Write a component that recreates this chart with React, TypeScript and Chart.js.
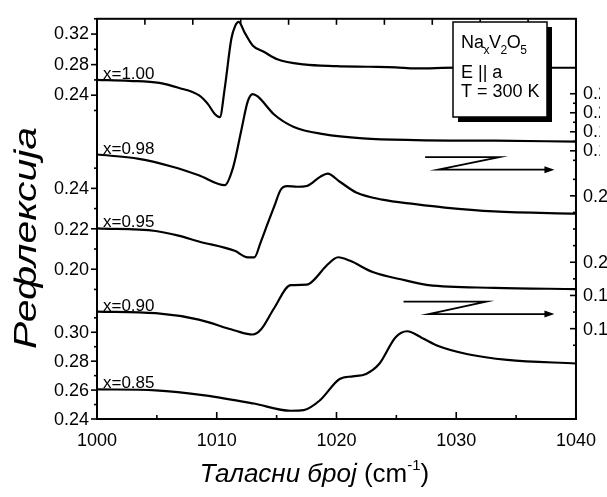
import React, { useEffect, useRef } from 'react';
import { Chart, registerables } from 'chart.js';

Chart.register(...registerables);

const FONT = '"Liberation Sans", Arial, Helvetica, sans-serif';

// ---- data: wavenumber (cm^-1) and reflectance for each Na content ----
const wn100 = [1000, 1002.7, 1005.2, 1006.8, 1008.5, 1009.3, 1009.8, 1010.26, 1010.67, 1011.22, 1011.55, 1011.83, 1012.32, 1013.0, 1013.97, 1015.06, 1017.26, 1020.0, 1022.7, 1024.94, 1026.58, 1030.0, 1033.2, 1037.0, 1040];
const refl100 = [0.2600, 0.2587, 0.2561, 0.2497, 0.2400, 0.2277, 0.2161, 0.2114, 0.2493, 0.3138, 0.3310, 0.3361, 0.3223, 0.3052, 0.2965, 0.2871, 0.2803, 0.2781, 0.2772, 0.2764, 0.2751, 0.2760, 0.2755, 0.2759, 0.2759];

const wn098 = [1000, 1003.5, 1006.3, 1008.5, 1010.67, 1011.36, 1012.04, 1012.59, 1013.0, 1013.42, 1014.79, 1016.44, 1018.91, 1022.2, 1026.58, 1033.2, 1040];
const refl098 = [0.1561, 0.1516, 0.1433, 0.1343, 0.1239, 0.1423, 0.1809, 0.2120, 0.2197, 0.2172, 0.1982, 0.1851, 0.1775, 0.1731, 0.1713, 0.1706, 0.1697];

const wn095 = [1000, 1004.9, 1006.8, 1008.5, 1011.5, 1012.59, 1013.14, 1013.66, 1014.24, 1014.81, 1015.33, 1015.88, 1016.71, 1017.53, 1018.63, 1019.26, 1020.25, 1021.65, 1023.84, 1026.58, 1029.05, 1033.17, 1040];
const refl095 = [0.2202, 0.2189, 0.2166, 0.2137, 0.2091, 0.2059, 0.2059, 0.2132, 0.2224, 0.2312, 0.2392, 0.2411, 0.2408, 0.2412, 0.2457, 0.2473, 0.2434, 0.2380, 0.2344, 0.2322, 0.2305, 0.2286, 0.2275];

const wn090 = [1000, 1004.9, 1008.5, 1011.5, 1013.0, 1013.69, 1014.79, 1016.16, 1017.53, 1018.08, 1019.18, 1020.14, 1021.1, 1023.02, 1025.76, 1027.68, 1033.17, 1040];
const refl090 = [0.1703, 0.1693, 0.1654, 0.1589, 0.1565, 0.1595, 0.1723, 0.1862, 0.1865, 0.1891, 0.1980, 0.2030, 0.2010, 0.1941, 0.1891, 0.1862, 0.1846, 0.1838];

const wn085 = [1000, 1004.9, 1009.0, 1013.1, 1016.16, 1017.26, 1018.63, 1020.27, 1021.37, 1022.47, 1023.56, 1024.94, 1025.9, 1027.14, 1028.5, 1030.97, 1034.26, 1040];
const refl085 = [0.2605, 0.2598, 0.2564, 0.2507, 0.2457, 0.2461, 0.2530, 0.2677, 0.2695, 0.2712, 0.2780, 0.2966, 0.3007, 0.2961, 0.2905, 0.2848, 0.2809, 0.2784];

const seriesNames = ['x=1.00', 'x=0.98', 'x=0.95', 'x=0.90', 'x=0.85'];
const seriesAxes = ['yA', 'yD', 'yB', 'yE', 'yC'];

// ---- axes ----
const xRange = [1000, 1040];
const xTickLabels = [1000, 1010, 1020, 1030, 1040];
const xMinorTicks = [1005, 1015, 1025, 1035];
const topTicks = [1004, 1008, 1012, 1016, 1020, 1024, 1028, 1032, 1036];

// y panels (each curve on its own reflectance scale)
const rangeA = [-0.1839, 0.34];
const ticksA = [0.24, 0.28, 0.32];
const minorA = [0.22, 0.26, 0.30, 0.34];

const rangeB = [0.1259, 0.3239];
const ticksB = [0.20, 0.22, 0.24];
const minorB = [0.19, 0.21, 0.23, 0.25];

const rangeC = [0.24, 0.5168];
const ticksC = [0.24, 0.26, 0.28, 0.30];
const minorC = [0.25, 0.27, 0.29, 0.31];

const rangeD = [-0.122, 0.2988];
const ticksD = [0.16, 0.18, 0.20, 0.22];
const minorD = [0.13, 0.15, 0.17, 0.19, 0.21];

const rangeE = [0.1056, 0.3466];
const ticksE = [0.16, 0.18, 0.20, 0.24];
const minorE = [0.15, 0.17, 0.19, 0.21, 0.22, 0.23];

// arrows pointing to the right-hand scale
const arrowAxes = ['yD', 'yE'];
const arrowTopX = [[1027.4, 1033.6], [1025.6, 1032.5]];
const arrowTopY = [0.1534, 0.1763];
const arrowBottomX = [[1028.5, 1038.2], [1027.7, 1038.2]];
const arrowBottomY = [0.1402, 0.1688];

const xTitleItalic = 'Таласни број';
const xTitleUnit = ' (cm';
const xTitleSup = '-1';
const xTitleEnd = ')';
const yTitle = 'Рефлексија';

const legendLine2 = 'E || a';
const legendLine3 = 'T = 300 K';

const BLACK = '#000';
const TICK_SIZE = 18;
const TICK_FONT = `${TICK_SIZE}px ${FONT}`;

function line(ctx: CanvasRenderingContext2D, x1: number, y1: number, x2: number, y2: number) {
  ctx.beginPath();
  ctx.moveTo(x1, y1);
  ctx.lineTo(x2, y2);
  ctx.stroke();
}

const decoPlugin = {
  id: 'deco',
  afterDraw(chart: any) {
    const { ctx, chartArea: a, scales } = chart;
    const xs = scales.x;
    ctx.save();
    ctx.strokeStyle = BLACK;
    ctx.fillStyle = BLACK;
    ctx.lineCap = 'butt';

    // frame
    ctx.lineWidth = 2;
    ctx.strokeRect(a.left, a.top, a.right - a.left, a.bottom - a.top);

    // bottom & top ticks
    ctx.lineWidth = 1.6;
    xTickLabels.forEach((v) => { const p = xs.getPixelForValue(v); line(ctx, p, a.bottom, p, a.bottom - 7); });
    xMinorTicks.forEach((v) => { const p = xs.getPixelForValue(v); line(ctx, p, a.bottom, p, a.bottom - 4); });
    topTicks.forEach((v) => { const p = xs.getPixelForValue(v); line(ctx, p, a.top, p, a.top + 6); });

    // left / right ticks (+ labels of the secondary panel scales)
    ctx.font = TICK_FONT;
    ctx.textBaseline = 'middle';
    const left: [string, number[], number[], boolean][] = [['yA', ticksA, minorA, false], ['yB', ticksB, minorB, true], ['yC', ticksC, minorC, true]];
    left.forEach(([id, maj, min, lab]) => {
      const s = scales[id];
      maj.forEach((v) => {
        const p = s.getPixelForValue(v);
        line(ctx, a.left - 6, p, a.left, p);
        if (lab) { ctx.textAlign = 'right'; ctx.fillText(v.toFixed(2), a.left - 8, p + 1); }
      });
      min.forEach((v) => { const p = s.getPixelForValue(v); line(ctx, a.left - 3, p, a.left + 1, p); });
    });
    const right: [string, number[], number[], boolean][] = [['yD', ticksD, minorD, false], ['yE', ticksE, minorE, true]];
    right.forEach(([id, maj, min, lab]) => {
      const s = scales[id];
      maj.forEach((v) => {
        const p = s.getPixelForValue(v);
        line(ctx, a.right - 6, p, a.right, p);
        if (lab) { ctx.textAlign = 'left'; ctx.fillText(v.toFixed(2), a.right + 7, p + 1); }
      });
      min.forEach((v) => { const p = s.getPixelForValue(v); line(ctx, a.right - 3, p, a.right, p); });
    });
    ctx.textBaseline = 'alphabetic';

    // arrows
    ctx.lineWidth = 1.8;
    arrowAxes.forEach((id, i) => {
      const s = scales[id];
      const ty = s.getPixelForValue(arrowTopY[i]);
      const by = s.getPixelForValue(arrowBottomY[i]);
      const t0 = xs.getPixelForValue(arrowTopX[i][0]);
      const t1 = xs.getPixelForValue(arrowTopX[i][1]);
      const b0 = xs.getPixelForValue(arrowBottomX[i][0]);
      const b1 = xs.getPixelForValue(arrowBottomX[i][1]);
      ctx.beginPath();
      ctx.moveTo(t0, ty);
      ctx.lineTo(t1, ty);
      ctx.lineTo(b0, by);
      ctx.lineTo(b1 - 8, by);
      ctx.stroke();
      ctx.beginPath();
      ctx.moveTo(b1, by);
      ctx.lineTo(b1 - 10, by - 3.5);
      ctx.lineTo(b1 - 10, by + 3.5);
      ctx.closePath();
      ctx.fill();
    });

    // legend box with shadow
    const bx = 453, by0 = 22, bw = 94, bh = 95;
    ctx.fillStyle = BLACK;
    ctx.fillRect(bx + 5, by0 + 5, bw, bh);
    ctx.fillStyle = '#fff';
    ctx.fillRect(bx, by0, bw, bh);
    ctx.strokeStyle = BLACK;
    ctx.lineWidth = 1.5;
    ctx.strokeRect(bx, by0, bw, bh);
    ctx.fillStyle = BLACK;
    ctx.textAlign = 'left';
    const big = `18px ${FONT}`;
    const small = `12px ${FONT}`;
    let tx = bx + 8;
    const parts: [string, boolean][] = [['Na', false], ['x', true], ['V', false], ['2', true], ['O', false], ['5', true]];
    parts.forEach(([t, sub]) => {
      ctx.font = sub ? small : big;
      ctx.fillText(t, tx, sub ? 54 : 48);
      tx += ctx.measureText(t).width - 0.5;
    });
    ctx.font = big;
    ctx.fillText(legendLine2, bx + 8, 78);
    ctx.fillText(legendLine3, bx + 8, 97);

    // curve labels
    ctx.font = `17px ${FONT}`;
    const firsts = [refl100[0], refl098[0], refl095[0], refl090[0], refl085[0]];
    seriesNames.forEach((n, i) => {
      const s = scales[seriesAxes[i]];
      ctx.fillText(n, xs.getPixelForValue(1000.5), s.getPixelForValue(firsts[i]) - 1);
    });

    // x title
    ctx.font = `italic 26px ${FONT}`;
    const w1 = ctx.measureText(xTitleItalic).width;
    ctx.font = `26px ${FONT}`;
    const w2 = ctx.measureText(xTitleUnit).width;
    const w4 = ctx.measureText(xTitleEnd).width;
    ctx.font = `15px ${FONT}`;
    const w3 = ctx.measureText(xTitleSup).width;
    const total = w1 + w2 + w3 + w4;
    let x0 = (a.left + a.right) / 2 - total / 2 - 22;
    const ybase = 482;
    ctx.font = `italic 26px ${FONT}`;
    ctx.fillText(xTitleItalic, x0, ybase);
    x0 += w1;
    ctx.font = `26px ${FONT}`;
    ctx.fillText(xTitleUnit, x0, ybase);
    x0 += w2;
    ctx.font = `15px ${FONT}`;
    ctx.fillText(xTitleSup, x0, ybase - 12);
    x0 += w3;
    ctx.font = `26px ${FONT}`;
    ctx.fillText(xTitleEnd, x0, ybase);

    // y title
    ctx.save();
    ctx.translate(36, 238);
    ctx.rotate(-Math.PI / 2);
    ctx.font = `italic 31px ${FONT}`;
    ctx.textAlign = 'center';
    const yw = ctx.measureText(yTitle).width;
    ctx.scale(222 / yw, 1);
    ctx.fillText(yTitle, 0, 0);
    ctx.restore();

    ctx.restore();
  },
};

function yAxis(range: number[], ticks: number[], position: string, width: number, show: boolean) {
  return {
    type: 'linear',
    position,
    display: show,
    min: range[0],
    max: range[1],
    afterBuildTicks: (s: any) => { s.ticks = ticks.map((v) => ({ value: v })); },
    afterFit: (s: any) => { s.width = width; },
    ticks: {
      autoSkip: false,
      padding: position === 'left' ? 8 : 7,
      color: BLACK,
      font: { family: FONT, size: TICK_SIZE },
      callback: (v: any) => Number(v).toFixed(2),
    },
    grid: { display: false, drawTicks: false },
    border: { display: false },
  };
}

export default function App() {
  const ref = useRef<HTMLCanvasElement | null>(null);
  useEffect(() => {
    if (!ref.current) return;
    const mk = (xs: number[], ys: number[]) => xs.map((x, i) => ({ x, y: ys[i] }));
    const all = [[wn100, refl100], [wn098, refl098], [wn095, refl095], [wn090, refl090], [wn085, refl085]];
    const chart = new Chart(ref.current, {
      type: 'line',
      data: {
        datasets: all.map(([xs, ys], i) => ({
          label: seriesNames[i],
          data: mk(xs as number[], ys as number[]),
          yAxisID: seriesAxes[i],
          borderColor: BLACK,
          borderWidth: 2.2,
          pointRadius: 0,
          fill: false,
          cubicInterpolationMode: 'monotone',
        })),
      },
      options: {
        responsive: false,
        maintainAspectRatio: false,
        animation: false,
        devicePixelRatio: 1,
        layout: { padding: { top: 13, left: 0, right: 0, bottom: 0 }, autoPadding: false },
        plugins: { legend: { display: false }, tooltip: { enabled: false } },
        scales: {
          x: {
            type: 'linear',
            position: 'bottom',
            min: xRange[0],
            max: xRange[1],
            afterBuildTicks: (s: any) => { s.ticks = xTickLabels.map((v) => ({ value: v })); },
            afterFit: (s: any) => { s.height = 78; },
            ticks: {
              autoSkip: false,
              maxRotation: 0,
              padding: 11,
              color: BLACK,
              font: { family: FONT, size: TICK_SIZE },
              callback: (v: any) => String(v),
            },
            grid: { display: false, drawTicks: false },
            border: { display: false },
          },
          yA: yAxis(rangeA, ticksA, 'left', 97, true),
          yB: yAxis(rangeB, ticksB, 'left', 0, false),
          yC: yAxis(rangeC, ticksC, 'left', 0, false),
          yD: yAxis(rangeD, ticksD, 'right', 24, true),
          yE: yAxis(rangeE, ticksE, 'right', 0, false),
        },
      } as any,
      plugins: [decoPlugin],
    });
    return () => chart.destroy();
  }, []);
  return (
    <div style={{ position: 'fixed', left: 0, top: 0, width: 607, height: 497, background: '#fff' }}>
      <canvas ref={ref} width={607} height={497} style={{ display: 'block' }} />
    </div>
  );
}
